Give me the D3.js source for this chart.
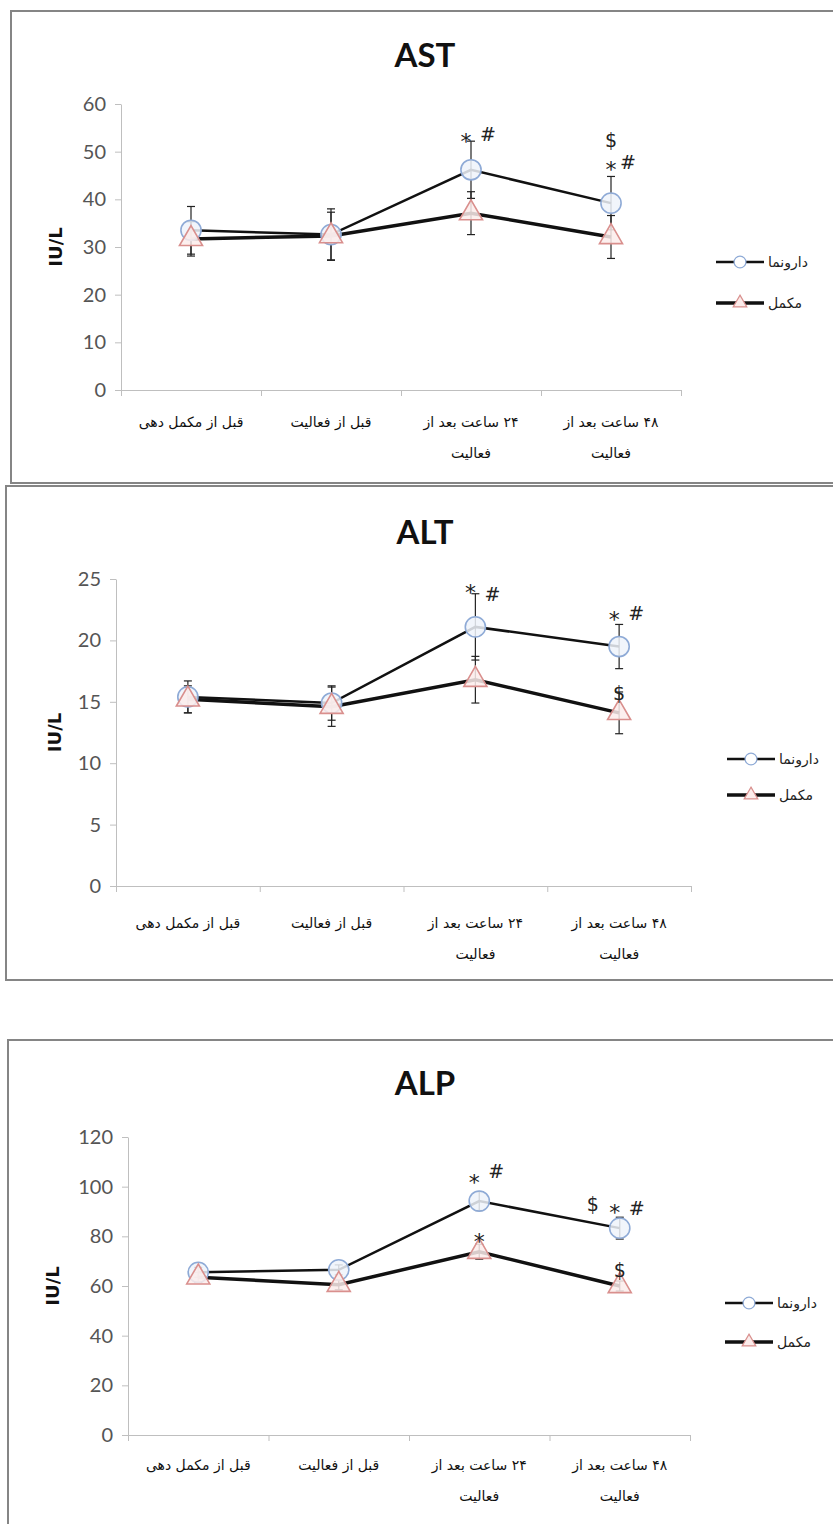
<!DOCTYPE html>
<html>
<head>
<meta charset="utf-8">
<script src="https://cdn.jsdelivr.net/npm/d3@7"></script>
<style>
body { margin: 0; background: #fff; }
</style>
</head>
<body>
<div id="container"></div>
<script>
// categories (x axis), each one split in lines like in the original figure
let categories = [
    ["قبل از مکمل دهی"],
    ["قبل از فعالیت"],
    ["۲۴ ساعت بعد از", "فعالیت"],
    ["۴۸ ساعت بعد از", "فعالیت"]
];
let seriesNames = ["دارونما", "مکمل"];

// AST
let astPlacebo = [33.5, 32.6, 46.2, 39.2];
let astPlaceboErr = [5, 5.4, 6, 5.6];
let astSupp = [31.7, 32.3, 37.1, 32.1];
let astSuppErr = [3.6, 5, 4.5, 4.5];
let astTicks = [0, 10, 20, 30, 40, 50, 60];
// [category, symbol, value, slot]
let astMarks = [[2, "*", 53.1, "l"], [2, "#", 53.5, "r"], [3, "$", 52.4, "c"], [3, "*", 47.2, "c"], [3, "#", 47.8, "r"]];

// ALT
let altPlacebo = [15.4, 14.9, 21.1, 19.5];
let altPlaceboErr = [1.3, 1.4, 2.7, 1.8];
let altSupp = [15.2, 14.6, 16.8, 14.1];
let altSuppErr = [1.1, 1.6, 1.9, 1.7];
let altTicks = [0, 5, 10, 15, 20, 25];
let altMarks = [[2, "*", 24.3, "l"], [2, "#", 23.7, "r"], [3, "*", 22.1, "l"], [3, "#", 22.2, "r"], [3, "$", 15.7, "c"]];

// ALP
let alpPlacebo = [65.5, 66.5, 94.2, 83.3];
let alpPlaceboErr = [2, 2, 3.8, 4.4];
let alpSupp = [63.5, 60.5, 73.8, 60];
let alpSuppErr = [2, 2, 3, 2];
let alpTicks = [0, 20, 40, 60, 80, 100, 120];
let alpMarks = [[2, "*", 103.5, "l"], [2, "#", 106, "r"], [3, "$", 93, "ll"], [3, "*", 91.4, "l"], [3, "#", 91.4, "r"], [2, "*", 79.7, "c"], [3, "$", 66.4, "c"]];

let w = 833;
let h = 1524;

let viz = d3.select("#container")
    .append("svg")
    .attr("width", w)
    .attr("height", h)
    .style("background-color", "#fff");

let panels = [
    {title: "AST", placebo: astPlacebo, pErr: astPlaceboErr, supp: astSupp, sErr: astSuppErr, ticks: astTicks, marks: astMarks,
     left: 121, right: 681, top: 104, bottom: 390, titleY: 67, labelX: 56, legX: 716, legY: [262, 303], catY: 427,
     box: [11, 11, 472]},
    {title: "ALT", placebo: altPlacebo, pErr: altPlaceboErr, supp: altSupp, sErr: altSuppErr, ticks: altTicks, marks: altMarks,
     left: 116, right: 691, top: 579, bottom: 886, titleY: 544, labelX: 55, legX: 727, legY: [759, 795], catY: 928,
     box: [6, 486, 494]},
    {title: "ALP", placebo: alpPlacebo, pErr: alpPlaceboErr, supp: alpSupp, sErr: alpSuppErr, ticks: alpTicks, marks: alpMarks,
     left: 128, right: 690, top: 1137, bottom: 1435, titleY: 1095, labelX: 53, legX: 725, legY: [1303, 1342], catY: 1470,
     box: [8, 1040, 500]}
];

let slotOffset = {ll: -27, l: -5, c: 0, r: 17};
let symbolLift = {"*": 12, "#": 6.5, "$": 6.5};
let symbolSize = {"*": 22, "#": 19, "$": 19};

let placeboStyle = {fill: "#eef3fa", stroke: "#8eaad6", line: 2.5};
let suppStyle = {fill: "#fbeceb", stroke: "#d98f8d", line: 3.5};

function drawPanel(p) {
    let g = viz.append("g");

    // frame
    g.append("rect")
        .attr("x", p.box[0])
        .attr("y", p.box[1])
        .attr("width", w + 10 - p.box[0])
        .attr("height", p.box[2])
        .attr("fill", "none")
        .attr("stroke", "#858585")
        .attr("stroke-width", 2);

    let xScale = d3.scaleBand()
        .domain(d3.range(categories.length))
        .range([p.left, p.right])
        .padding(0);
    let cx = i => xScale(i) + xScale.bandwidth() / 2;

    let yScale = d3.scaleLinear()
        .domain([0, d3.max(p.ticks)])
        .range([p.bottom, p.top]);

    // title
    g.append("text")
        .attr("x", 425)
        .attr("y", p.titleY)
        .attr("text-anchor", "middle")
        .style("font-family", "Lato, 'DejaVu Sans', sans-serif")
        .style("font-weight", "bold")
        .style("font-size", "33px")
        .attr("fill", "#111")
        .text(p.title);

    // y axis
    let yAxis = g.append("g")
        .attr("transform", `translate(${p.left}, 0)`)
        .call(d3.axisLeft(yScale).tickValues(p.ticks).tickSize(6).tickSizeOuter(0).tickPadding(9));
    yAxis.select(".domain").attr("stroke", "#bfbfbf");
    yAxis.selectAll(".tick line").attr("stroke", "#bfbfbf");
    yAxis.selectAll(".tick text")
        .style("font-family", "Lato, sans-serif")
        .style("font-size", "20px")
        .attr("fill", "#555");

    // x axis (ticks on the category borders)
    let borderScale = d3.scaleLinear().domain([0, categories.length]).range([p.left, p.right]);
    let xAxis = g.append("g")
        .attr("transform", `translate(0, ${p.bottom})`)
        .call(d3.axisBottom(borderScale).ticks(categories.length).tickSize(6).tickSizeOuter(0).tickFormat(""));
    xAxis.select(".domain").attr("stroke", "#bfbfbf");
    xAxis.selectAll(".tick line").attr("stroke", "#bfbfbf");

    g.selectAll(".cat")
        .data(categories)
        .enter()
        .append("text")
        .attr("class", "cat")
        .attr("x", (d, i) => cx(i))
        .attr("y", p.catY)
        .attr("text-anchor", "middle")
        .attr("direction", "rtl")
        .style("font-family", "'DejaVu Sans', sans-serif")
        .style("font-size", "14px")
        .attr("fill", "#111")
        .each(function(d) {
            let t = d3.select(this);
            d.forEach((line, k) => {
                t.append("tspan")
                    .attr("x", t.attr("x"))
                    .attr("dy", k == 0 ? 0 : 31)
                    .text(line);
            });
        });

    // y label
    g.append("text")
        .attr("transform", `translate(${p.labelX}, ${(p.top + p.bottom) / 2}) rotate(-90)`)
        .attr("text-anchor", "middle")
        .attr("dy", "0.35em")
        .style("font-family", "'DejaVu Sans', sans-serif")
        .style("font-weight", "bold")
        .style("font-size", "18px")
        .attr("fill", "#111")
        .text("IU/L");

    let series = [
        {values: p.placebo, err: p.pErr, style: placeboStyle, shape: "circle"},
        {values: p.supp, err: p.sErr, style: suppStyle, shape: "triangle"}
    ];

    // error bars
    series.forEach(s => {
        let eb = g.append("g").attr("stroke", "#222").attr("stroke-width", 1.2);
        s.values.forEach((v, i) => {
            let lo = yScale(v - s.err[i]);
            let hi = yScale(v + s.err[i]);
            eb.append("line").attr("x1", cx(i)).attr("x2", cx(i)).attr("y1", lo).attr("y2", hi);
            eb.append("line").attr("x1", cx(i) - 4).attr("x2", cx(i) + 4).attr("y1", lo).attr("y2", lo);
            eb.append("line").attr("x1", cx(i) - 4).attr("x2", cx(i) + 4).attr("y1", hi).attr("y2", hi);
        });
    });

    let lineMaker = d3.line()
        .x((d, i) => cx(i))
        .y(d => yScale(d));

    // supplement line drawn first, placebo over it
    [series[1], series[0]].forEach(s => {
        g.append("path")
            .datum(s.values)
            .attr("fill", "none")
            .attr("stroke", "#111")
            .attr("stroke-width", s.style.line)
            .attr("d", lineMaker);
    });

    series.forEach(s => {
        g.selectAll(null)
            .data(s.values)
            .enter()
            .append("path")
            .attr("transform", (d, i) => `translate(${cx(i)}, ${yScale(d)})`)
            .attr("d", d3.symbol(s.shape == "circle" ? d3.symbolCircle : d3.symbolTriangle).size(s.shape == "circle" ? 320 : 230))
            .attr("fill", s.style.fill)
            .attr("fill-opacity", 0.85)
            .attr("stroke", s.style.stroke)
            .attr("stroke-width", 1.6);
    });

    // significance symbols
    g.selectAll(".mark")
        .data(p.marks)
        .enter()
        .append("text")
        .attr("class", "mark")
        .attr("x", d => cx(d[0]) + slotOffset[d[3]])
        .attr("y", d => yScale(d[2]) + symbolLift[d[1]])
        .attr("text-anchor", "middle")
        .style("font-family", "'DejaVu Sans', sans-serif")
        .style("font-size", d => symbolSize[d[1]] + "px")
        .attr("fill", "#222")
        .text(d => d[1]);

    // legend
    series.forEach((s, k) => {
        let ly = p.legY[k];
        let lg = g.append("g");
        lg.append("line")
            .attr("x1", p.legX).attr("x2", p.legX + 48)
            .attr("y1", ly).attr("y2", ly)
            .attr("stroke", "#111")
            .attr("stroke-width", s.style.line);
        lg.append("path")
            .attr("transform", `translate(${p.legX + 24}, ${ly})`)
            .attr("d", d3.symbol(s.shape == "circle" ? d3.symbolCircle : d3.symbolTriangle).size(s.shape == "circle" ? 110 : 80))
            .attr("fill", s.shape == "circle" ? "#fff" : s.style.fill)
            .attr("stroke", s.style.stroke)
            .attr("stroke-width", 1.2);
        lg.append("text")
            .attr("x", p.legX + 52)
            .attr("y", ly)
            .attr("dy", "0.35em")
            .style("font-family", "'DejaVu Sans', sans-serif")
            .style("font-size", "14px")
            .attr("fill", "#222")
            .text(seriesNames[k]);
    });
}

panels.forEach(drawPanel);
</script>
</body>
</html>
